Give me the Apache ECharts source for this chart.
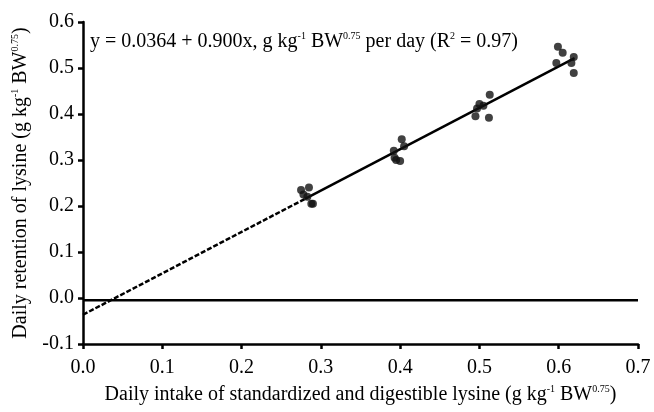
<!DOCTYPE html>
<html>
<head>
<meta charset="utf-8">
<script src="https://cdn.jsdelivr.net/npm/echarts@6/dist/echarts.min.js"></script>
<style>
html,body{margin:0;padding:0;background:#fff;}
#c{width:654px;height:412px;}
</style>
</head>
<body>
<div id="c"></div>
<script>
// Observed data (g kg^-1 BW^0.75)
const intakeX = [0.275,0.278,0.283,0.285,0.288,0.290,
                 0.392,0.393,0.395,0.402,0.400,0.405,
                 0.495,0.497,0.500,0.505,0.512,0.513,
                 0.597,0.599,0.605,0.616,0.619,0.619];
const retentionY = [0.235,0.225,0.220,0.240,0.205,0.205,
                    0.320,0.305,0.300,0.345,0.298,0.330,
                    0.395,0.412,0.422,0.418,0.392,0.442,
                    0.511,0.546,0.533,0.511,0.524,0.489];
// Regression line as drawn
const intercept = -0.0364;
const slope = 0.900;
const dashedRange = [0.0, 0.28];
const solidRange = [0.28, 0.62];
const baselineY = -0.005;
const xTicks = {min:0, max:0.7, interval:0.1};
const yTicks = {min:-0.1, max:0.6, interval:0.1};

const font = '"Liberation Serif","Times New Roman",serif';
const pts = intakeX.map((x,i)=>[x, retentionY[i]]);
const lineSeg = r => r.map(x=>[x, intercept + slope*x]);
const richTitle = {
  t:{fontFamily:font, fontSize:20, color:'#000'},
  s:{fontFamily:font, fontSize:10, color:'#000', padding:[0,0,11,0]}
};

const chart = echarts.init(document.getElementById('c'));
chart.setOption({
  animation:false,
  grid:{left:83, right:16, top:22, bottom:68},
  xAxis:{
    type:'value', min:xTicks.min, max:xTicks.max, interval:xTicks.interval,
    axisLine:{onZero:false, lineStyle:{color:'#000', width:2.5}},
    axisTick:{show:true, length:5, lineStyle:{color:'#000', width:2.5}},
    splitLine:{show:false},
    axisLabel:{color:'#000', fontFamily:font, fontSize:20, margin:14, formatter:v=>v.toFixed(1)},
    name:'{t|Daily intake of standardized and digestible lysine (g kg}{s|-1}{t| BW}{s|0.75}{t|)}',
    nameLocation:'middle', nameGap:40,
    nameTextStyle:{rich:richTitle}
  },
  yAxis:{
    type:'value', min:yTicks.min, max:yTicks.max, interval:yTicks.interval,
    axisLine:{onZero:false, lineStyle:{color:'#000', width:2.5}},
    axisTick:{show:true, length:5, lineStyle:{color:'#000', width:2.5}},
    splitLine:{show:false},
    axisLabel:{color:'#000', fontFamily:font, fontSize:20, margin:9, formatter:v=>v.toFixed(1)},
    name:'{t|Daily retention of lysine (g kg}{s|-1}{t| BW}{s|0.75}{t|)}',
    nameLocation:'middle', nameGap:52, nameRotate:90,
    nameTextStyle:{rich:richTitle}
  },
  graphic:[{
    type:'text', left:90, top:31,
    style:{
      text:'{t|y = 0.0364 + 0.900x, g kg}{s|-1}{t| BW}{s|0.75}{t| per day (R}{s|2}{t| = 0.97)}',
      rich:{
        t:{fontFamily:font, fontSize:20, fill:'#000'},
        s:{fontFamily:font, fontSize:10, fill:'#000', padding:[0,0,11,0]}
      }
    }
  }],
  series:[
    {type:'line', data:[[xTicks.min, baselineY],[xTicks.max, baselineY]], symbol:'none',
     lineStyle:{color:'#000', width:2.5}, z:1},
    {type:'line', data:lineSeg(dashedRange), symbol:'none',
     lineStyle:{color:'#000', width:2.5, type:[5,2]}, z:2},
    {type:'line', data:lineSeg(solidRange), symbol:'none',
     lineStyle:{color:'#000', width:2.5}, z:2},
    {type:'scatter', data:pts, symbol:'circle', symbolSize:8,
     itemStyle:{color:'#111'}, z:3}
  ]
});
</script>
</body>
</html>
